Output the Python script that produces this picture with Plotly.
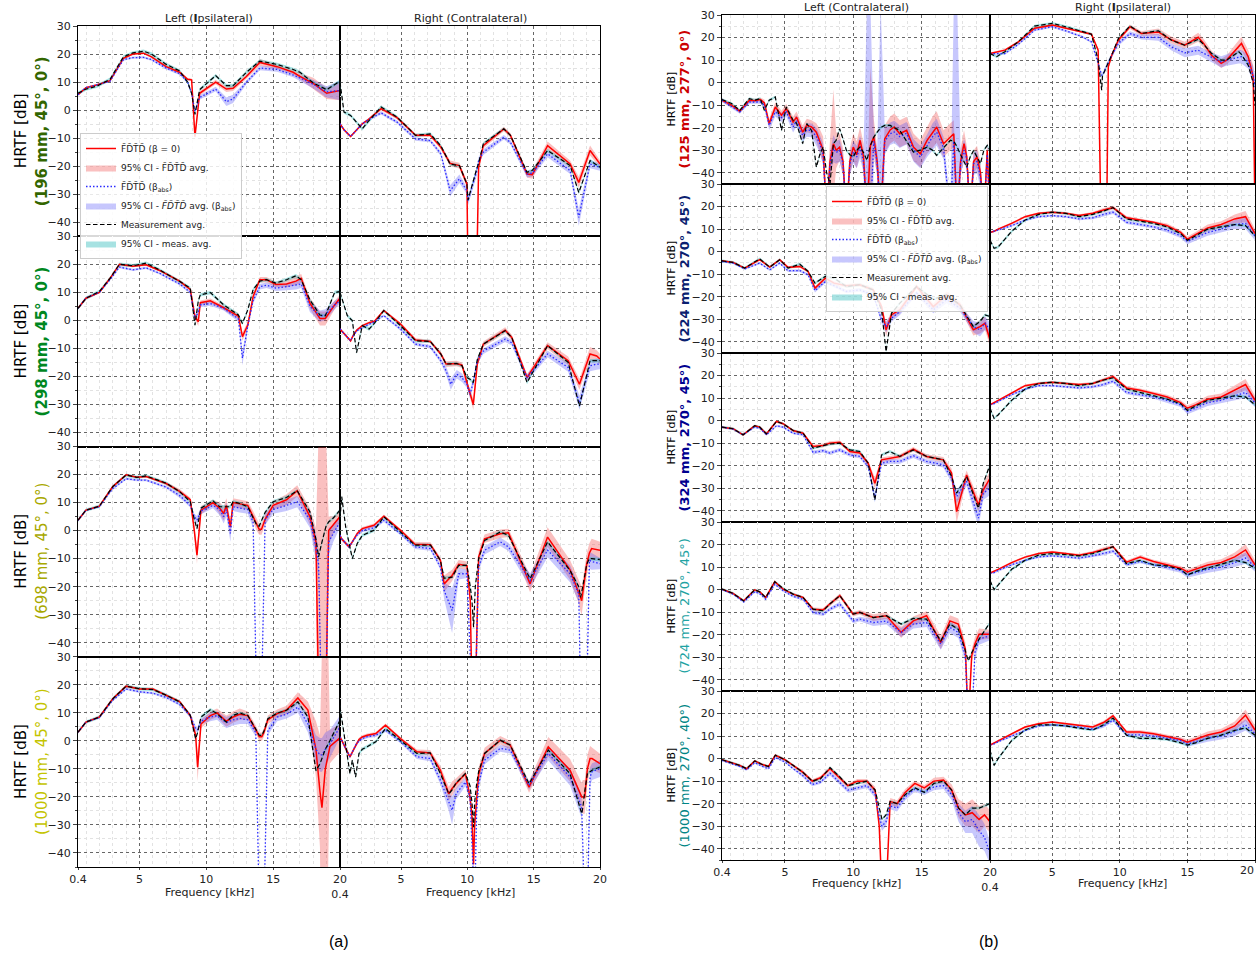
import plotly.graph_objects as go

W, H = 1257, 956

TICK_X = [0.4, 5, 10, 15, 20]
TICK_X_TEXT = ["0.4", "5", "10", "15", "20"]
TICK_Y = [-40, -30, -20, -10, 0, 10, 20, 30]
MEAS_CI = 0.6

# ===================== Panel (a) =====================
# row 1 : 196 mm - left (ipsilateral)
a1L_f    = [0.4, 1.0, 1.8, 2.8, 3.8, 4.5, 5.3, 5.9, 7.0, 8.0, 8.6, 8.9, 9.15, 9.5, 10.7, 11.5, 12.0, 13.0, 14.0, 15.3, 16.5, 17.0, 18.0, 19.0, 20.0]
a1L_meas = [6.0, 7.5, 8.5, 11.0, 19.0, 20.4, 21.0, 20.0, 16.3, 14.0, 10.0, 6.0, -1.5, 7.3, 12.3, 8.7, 8.7, 13.5, 17.5, 16.3, 14.5, 13.5, 9.7, 7.3, 10.3]
a1L_red  = [5.5, 8.0, 9.0, 10.5, 18.5, 20.0, 20.3, 19.0, 15.5, 13.5, 11.0, 10.8, -9.5, 6.0, 10.0, 7.5, 7.8, 12.0, 17.0, 15.5, 13.5, 12.0, 9.5, 6.0, 7.0]
a1L_blue = [5.5, 8.0, 9.0, 10.3, 18.0, 18.7, 18.8, 18.0, 15.0, 13.0, 10.0, 6.0, -0.5, 4.5, 7.5, 3.0, 4.0, 10.0, 15.0, 14.5, 12.5, 11.5, 9.2, 6.5, 7.0]
a1L_rci  = [0.3, 0.3, 0.3, 0.3, 0.4, 0.4, 0.4, 0.4, 0.5, 0.5, 0.5, 0.5, 1.5, 0.8, 0.8, 1.0, 1.0, 0.8, 1.2, 0.8, 0.8, 1.2, 2.0, 2.0, 3.5]
a1L_bci  = [0.3, 0.3, 0.3, 0.3, 0.4, 0.4, 0.4, 0.4, 0.5, 0.5, 0.5, 0.5, 0.8, 0.8, 0.8, 1.5, 1.5, 0.8, 0.8, 0.8, 0.8, 1.0, 1.5, 2.0, 3.5]

# row 1 : 196 mm - right (contralateral)
a1R_f    = [0.4, 0.7, 1.2, 2.08, 2.45, 3.5, 4.7, 6.1, 7.2, 8.0, 8.7, 9.4, 9.97, 10.05, 10.7, 10.85, 11.2, 12.75, 13.25, 14.5, 14.9, 16.05, 17.75, 18.4, 19.25, 20.0]
a1R_meas = [10.0, -0.7, -1.9, -6.7, -4.5, 1.1, -2.5, -9.0, -8.5, -12.7, -19.3, -19.8, -26.4, -32.1, -21.0, -19.0, -12.0, -6.7, -9.0, -22.2, -21.5, -14.4, -19.8, -29.4, -18.0, -20.4]
a1R_red  = [-4.9, -7.0, -9.4, -4.9, -3.7, 0.5, -2.7, -9.0, -9.0, -13.2, -19.0, -19.8, -26.4, -60, -60, -20.4, -12.7, -6.7, -9.0, -22.8, -23.0, -12.7, -19.2, -25.8, -14.4, -19.2]
a1R_blue = [-4.9, -7.0, -9.4, -4.9, -3.7, -1.0, -4.3, -10.3, -10.9, -15.6, -28.8, -24.5, -28.8, -32.4, -22.0, -18.0, -15.0, -9.7, -11.5, -22.8, -22.5, -15.6, -21.6, -38.3, -19.2, -20.4]
a1R_rci  = [0.4, 0.4, 0.4, 0.4, 0.4, 0.6, 0.6, 0.6, 0.6, 0.8, 1.0, 1.0, 1.2, 2.0, 2.0, 1.2, 1.0, 0.8, 0.8, 1.2, 1.5, 1.5, 1.2, 2.0, 1.8, 1.2]
a1R_bci  = [0.4, 0.4, 0.4, 0.4, 0.4, 0.6, 0.6, 0.6, 0.6, 0.8, 2.0, 1.5, 1.2, 1.5, 1.5, 1.2, 1.0, 0.8, 0.8, 1.2, 1.2, 1.2, 1.2, 3.0, 1.5, 1.2]

# row 2 : 298 mm - left (ipsilateral)
a2L_f    = [0.4, 1.0, 2.0, 2.8, 3.5, 4.5, 5.5, 6.5, 8.0, 8.8, 9.15, 9.4, 9.55, 10.3, 11.3, 12.4, 12.7, 13.1, 13.5, 14.0, 14.5, 15.2, 16.0, 16.7, 17.1, 17.75, 18.5, 18.9, 19.6, 20.0]
a2L_meas = [4.3, 7.9, 10.3, 15.0, 20.0, 19.5, 20.4, 18.0, 13.9, 11.5, -1.7, 7.0, 9.1, 9.9, 5.5, 1.9, -1.1, 3.7, 11.0, 14.0, 14.5, 13.3, 14.5, 15.9, 14.5, 7.3, 1.9, 1.6, 10.0, 10.3]
a2L_red  = [4.3, 7.9, 10.0, 15.0, 20.0, 19.3, 19.8, 17.8, 14.0, 11.0, 1.3, -0.5, 6.3, 7.0, 4.5, 1.5, -5.8, -1.7, 8.5, 14.5, 14.5, 12.8, 13.0, 14.0, 15.0, 6.1, 0.7, 0.7, 5.5, 7.9]
a2L_blue = [4.3, 8.0, 10.0, 14.5, 19.0, 18.0, 18.7, 16.8, 13.0, 10.0, 0.7, 3.0, 5.5, 6.0, 4.3, 0.5, -13.5, -2.0, 7.0, 12.0, 12.5, 11.5, 12.0, 12.5, 13.0, 5.0, 1.5, 2.0, 5.5, 7.0]
a2L_rci  = [0.3, 0.3, 0.3, 0.3, 0.4, 0.4, 0.4, 0.4, 0.5, 0.5, 1.0, 1.5, 0.8, 0.8, 0.8, 1.0, 1.5, 1.2, 1.0, 1.0, 1.0, 1.0, 1.2, 1.5, 1.5, 2.0, 2.5, 2.5, 1.5, 1.2]
a2L_bci  = [0.3, 0.3, 0.3, 0.3, 0.4, 0.4, 0.4, 0.4, 0.5, 0.5, 1.0, 1.2, 0.8, 0.8, 0.8, 1.0, 2.5, 1.2, 1.0, 1.0, 1.0, 1.0, 1.2, 1.5, 1.5, 2.0, 2.0, 2.0, 1.5, 1.2]

# row 2 : 298 mm - right (contralateral)
a2R_f    = [0.4, 0.95, 1.2, 1.33, 1.65, 2.08, 2.6, 3.0, 3.7, 4.96, 6.1, 7.2, 8.0, 8.4, 8.75, 9.2, 9.6, 9.97, 10.2, 10.45, 10.75, 11.2, 12.85, 13.35, 14.5, 16.05, 17.6, 18.45, 19.25, 19.75, 20.0]
a2R_meas = [10.0, 1.7, 0.5, -0.1, -11.5, -1.9, -3.1, -1.0, 3.5, -1.9, -7.3, -7.5, -12.0, -15.6, -15.5, -15.4, -16.2, -20.4, -21.0, -22.2, -14.0, -8.5, -3.7, -6.1, -22.2, -9.0, -15.0, -30.6, -14.4, -14.4, -14.4]
a2R_red  = [-3.1, -6.0, -7.3, -6.0, -3.5, -1.9, -0.8, -0.3, 3.5, -1.3, -7.0, -7.5, -12.0, -15.6, -15.5, -15.4, -16.0, -22.8, -26.0, -30.0, -15.6, -8.5, -3.5, -6.1, -20.4, -9.0, -14.4, -22.8, -12.0, -12.7, -13.8]
a2R_blue = [-3.1, -6.0, -7.3, -6.0, -3.8, -2.5, -1.5, -0.5, 1.7, -3.1, -8.5, -9.4, -14.4, -18.0, -22.8, -19.2, -20.5, -22.8, -26.4, -22.0, -14.4, -11.0, -6.7, -8.0, -20.4, -12.0, -16.8, -29.4, -16.2, -15.6, -15.6]
a2R_rci  = [0.4, 0.4, 0.4, 0.4, 0.4, 0.4, 0.4, 0.4, 0.4, 0.6, 0.6, 0.6, 0.8, 1.0, 1.0, 1.0, 1.0, 1.2, 1.5, 2.0, 1.2, 1.0, 1.0, 1.0, 1.2, 1.2, 1.5, 2.0, 2.5, 2.0, 1.8]
a2R_bci  = [0.4, 0.4, 0.4, 0.4, 0.4, 0.4, 0.4, 0.4, 0.4, 0.6, 0.6, 0.6, 0.8, 1.5, 2.0, 1.5, 1.5, 1.2, 1.5, 1.5, 1.2, 1.0, 1.0, 1.0, 1.2, 1.2, 1.5, 2.5, 2.0, 2.0, 1.8]

# row 3 : 698 mm - left (ipsilateral)
a3L_f    = [0.4, 1.0, 2.0, 3.0, 4.0, 4.8, 5.5, 7.0, 8.0, 8.8, 9.1, 9.3, 9.6, 10.5, 11.0, 11.3, 11.5, 11.8, 12.0, 12.5, 13.1, 13.5, 13.76, 13.95, 14.13, 14.4, 15.0, 16.0, 16.8, 17.75, 18.2, 18.4, 18.6, 18.95, 19.15, 19.5, 20.0]
a3L_meas = [3.7, 7.3, 8.7, 15.7, 19.8, 19.0, 19.5, 16.9, 13.9, 10.3, 4.0, 0.7, 8.0, 10.6, 8.5, 8.5, 8.5, 8.5, 10.3, 9.7, 8.5, 4.5, 2.0, 1.6, 3.5, 6.5, 10.3, 11.8, 14.2, 6.7, -3.0, -9.4, -5.0, 1.5, 3.1, 4.5, 7.3]
a3L_red  = [3.7, 7.3, 8.7, 15.7, 19.9, 19.0, 19.3, 16.8, 14.0, 11.0, 0.0, -8.8, 7.3, 10.0, 8.0, 6.1, 9.0, 1.3, 10.0, 9.5, 9.0, 5.0, 2.0, 0.5, 0.5, 4.0, 9.0, 11.0, 14.2, 5.0, -4.0, -60, -60, -60, 0.0, 2.0, 5.0]
a3L_blue = [3.7, 7.3, 8.5, 15.0, 18.5, 18.0, 18.0, 15.5, 12.5, 9.0, 5.0, 3.7, 7.0, 9.0, 7.5, 5.0, 7.5, -1.0, 8.5, 8.0, 7.5, 3.0, -60, -60, -60, 4.0, 7.5, 9.0, 10.3, 4.0, -6.0, -12.0, -60, -60, -4.0, -1.0, 3.0]
a3L_rci  = [0.3, 0.3, 0.3, 0.4, 0.4, 0.4, 0.4, 0.5, 0.8, 0.8, 1.5, 3.0, 1.5, 1.0, 2.0, 2.5, 2.5, 2.5, 1.5, 1.5, 1.5, 2.0, 2.0, 2.0, 2.0, 2.0, 1.5, 2.0, 2.0, 3.0, 5.0, 95, 95, 95, 5.0, 3.0, 2.0]
a3L_bci  = [0.3, 0.3, 0.3, 0.4, 0.4, 0.4, 0.4, 0.5, 0.8, 0.8, 1.0, 1.5, 1.2, 1.0, 2.0, 2.5, 2.5, 3.0, 1.5, 1.5, 1.5, 2.0, 3.0, 3.0, 3.0, 2.0, 1.5, 2.0, 2.0, 3.0, 5.0, 5.0, 5.0, 5.0, 5.0, 3.0, 2.0]

# row 3 : 698 mm - right (contralateral)
a3R_f    = [0.4, 0.53, 0.83, 1.08, 1.33, 1.7, 2.08, 2.96, 3.71, 4.96, 6.05, 7.22, 7.97, 8.25, 8.85, 9.35, 9.97, 10.22, 10.35, 10.47, 10.6, 10.85, 11.3, 12.48, 13.1, 14.73, 16.05, 17.74, 18.4, 18.54, 18.62, 19.0, 19.2, 19.37, 20.0]
a3R_meas = [4.3, 12.1, 1.3, -5.0, -10.0, -4.6, -1.7, 0.1, 4.9, -0.5, -5.2, -5.2, -10.6, -17.0, -16.6, -12.4, -12.4, -20.0, -25.0, -34.5, -20.0, -10.0, -3.5, -0.5, -1.7, -17.2, -4.0, -14.2, -20.0, -23.8, -22.0, -12.0, -10.0, -10.0, -10.4]
a3R_red  = [-1.7, -3.0, -4.5, -5.8, -4.0, -1.0, 0.7, 1.9, 5.1, 0.1, -4.9, -5.0, -10.6, -19.0, -16.0, -12.0, -12.5, -25.0, -60, -60, -60, -9.4, -2.9, -1.1, -0.8, -19.0, -2.3, -14.0, -22.0, -24.0, -25.0, -12.0, -8.0, -6.4, -7.0]
a3R_blue = [-1.7, -3.0, -4.5, -5.8, -4.0, -1.5, 0.0, 1.0, 3.7, -1.1, -5.8, -6.4, -13.0, -21.4, -28.5, -15.4, -15.4, -60, -60, -60, -60, -13.0, -7.0, -4.0, -5.8, -17.8, -7.0, -15.4, -22.6, -60, -60, -60, -10.6, -11.0, -11.8]
a3R_rci  = [0.5, 0.5, 0.6, 0.6, 0.6, 0.6, 0.6, 0.6, 0.6, 0.6, 0.8, 0.8, 1.0, 3.0, 2.0, 1.5, 1.5, 2.0, 3.0, 3.0, 3.0, 2.0, 1.5, 1.5, 1.5, 3.0, 3.5, 3.5, 4.0, 5.0, 5.0, 4.0, 3.5, 3.5, 3.0]
a3R_bci  = [0.5, 0.5, 0.6, 0.6, 0.6, 0.6, 0.6, 0.6, 0.6, 0.6, 0.8, 0.8, 1.0, 3.0, 8.0, 2.0, 1.5, 2.0, 2.0, 2.0, 2.0, 1.5, 1.5, 1.5, 1.5, 2.5, 2.5, 3.0, 3.0, 3.0, 3.0, 3.0, 3.0, 3.0, 2.0]

# row 4 : 1000 mm - left (ipsilateral)
a4L_f    = [0.4, 1.0, 2.0, 3.0, 4.0, 5.0, 6.0, 7.0, 8.0, 8.8, 9.2, 9.35, 9.6, 10.3, 10.8, 11.5, 12.0, 12.5, 13.1, 13.7, 13.96, 14.15, 14.31, 14.6, 15.3, 16.0, 16.85, 17.6, 18.2, 18.5, 18.65, 18.9, 19.25, 20.0]
a4L_meas = [3.1, 6.7, 8.5, 15.0, 19.5, 18.6, 18.3, 16.3, 13.9, 9.1, 0.7, 3.0, 8.5, 11.1, 9.7, 6.7, 9.1, 9.9, 9.1, 4.0, 2.0, 1.9, 3.5, 7.9, 9.9, 10.9, 13.9, 8.5, -10.6, -8.2, -6.0, -3.0, 0.1, 7.3]
a4L_red  = [3.1, 6.7, 8.5, 15.0, 19.5, 18.5, 18.5, 16.3, 14.0, 9.0, 2.0, -9.4, 6.0, 9.0, 10.0, 7.0, 8.5, 9.5, 9.0, 4.0, 1.5, 1.5, 3.0, 7.5, 9.7, 11.0, 15.3, 11.0, -3.0, -18.0, -23.8, -10.0, -2.0, 1.1]
a4L_blue = [3.1, 6.7, 8.3, 14.5, 18.5, 17.5, 17.0, 15.5, 13.0, 9.0, 4.3, 4.0, 7.0, 8.5, 9.0, 6.5, 7.5, 8.0, 7.5, 3.0, -60, -60, -60, 3.5, 8.5, 9.5, 12.0, 6.0, -3.0, -5.0, -5.0, -3.0, -1.0, 5.0]
a4L_rci  = [0.3, 0.3, 0.3, 0.4, 0.4, 0.4, 0.4, 0.5, 0.5, 0.8, 1.5, 5.0, 1.5, 1.5, 1.5, 2.0, 2.0, 2.0, 1.5, 1.5, 1.5, 1.5, 1.5, 1.5, 1.5, 1.5, 2.0, 3.0, 10.0, 20.0, 95, 95, 6.0, 5.0]
a4L_bci  = [0.3, 0.3, 0.3, 0.4, 0.4, 0.4, 0.4, 0.5, 0.5, 0.8, 1.0, 1.0, 1.0, 1.5, 1.5, 2.0, 2.0, 2.0, 1.5, 1.5, 2.0, 2.0, 2.0, 1.5, 1.5, 1.5, 2.0, 3.0, 5.0, 6.0, 6.0, 6.0, 5.0, 4.0]

# row 4 : 1000 mm - right (contralateral)
a4R_f    = [0.4, 0.83, 1.15, 1.33, 1.58, 1.83, 2.08, 2.45, 3.1, 3.83, 4.96, 6.2, 7.2, 7.97, 8.6, 8.85, 9.15, 9.85, 10.2, 10.35, 10.47, 10.55, 10.7, 10.85, 11.3, 12.48, 13.23, 14.65, 16.1, 17.74, 18.62, 18.7, 18.85, 19.05, 19.25, 19.4, 20.0]
a4R_meas = [12.2, -2.1, -11.7, -6.9, -12.9, -4.5, -3.0, -2.1, -0.3, 4.4, 0.2, -4.5, -4.3, -11.7, -18.9, -17.5, -15.0, -11.7, -16.0, -22.0, -30.8, -22.0, -15.3, -11.0, -4.5, 0.2, -1.5, -15.3, -3.3, -11.7, -26.0, -24.0, -18.0, -11.7, -11.0, -10.5, -9.3]
a4R_red  = [1.4, -3.0, -5.7, -4.0, -1.5, 0.5, 1.4, 2.0, 2.6, 5.6, 0.8, -3.9, -4.3, -10.5, -18.9, -17.0, -15.3, -11.7, -20.0, -27.2, -44.0, -30.0, -21.0, -12.0, -4.5, 0.2, -1.5, -16.5, -2.1, -10.5, -20.0, -20.0, -20.0, -10.0, -6.3, -6.3, -8.1]
a4R_blue = [1.4, -3.0, -5.7, -4.0, -1.5, 0.0, 0.8, 1.5, 2.0, 3.8, -0.3, -5.7, -6.3, -14.1, -22.0, -24.8, -18.9, -14.7, -20.0, -34.4, -60, -60, -25.0, -15.3, -6.9, -2.7, -3.3, -15.9, -4.5, -12.9, -23.6, -60, -60, -60, -12.9, -11.0, -9.9]
a4R_rci  = [0.5, 0.6, 0.6, 0.6, 0.6, 0.6, 0.6, 0.6, 0.6, 0.6, 0.6, 0.8, 1.0, 1.5, 2.5, 2.5, 2.0, 1.5, 2.0, 3.0, 4.0, 4.0, 3.0, 2.5, 2.0, 1.5, 1.5, 2.0, 3.5, 4.0, 5.0, 6.0, 6.0, 5.0, 4.5, 4.0, 3.5]
a4R_bci  = [0.5, 0.6, 0.6, 0.6, 0.6, 0.6, 0.6, 0.6, 0.6, 0.6, 0.6, 0.8, 1.0, 1.5, 3.0, 5.0, 2.0, 1.5, 2.0, 3.0, 4.0, 4.0, 3.0, 2.0, 1.5, 1.2, 1.2, 1.5, 2.5, 3.0, 4.0, 4.0, 4.0, 4.0, 3.5, 3.0, 3.0]

# ===================== Panel (b) =====================
# row 1 : 125 mm - left (contralateral)
b1L_f    = [0.4, 1.1, 1.7, 2.4, 2.8, 3.2, 3.5, 3.85, 4.3, 4.75, 5.1, 5.6, 5.85, 6.3, 6.6, 6.95, 7.3, 7.55, 7.8, 8.05, 8.3, 8.55, 8.75, 9.0, 9.25, 9.5, 9.75, 10.0, 10.25, 10.5, 10.75, 11.0, 11.25, 11.5, 11.75, 12.0, 12.3, 12.7, 13.0, 13.4, 13.9, 14.4, 14.9, 15.4, 15.8, 16.1, 16.6, 17.1, 17.35, 17.6, 17.85, 18.1, 18.3, 18.55, 18.8, 19.05, 19.3, 19.55, 19.8, 20.0]
b1L_meas = [-7.5, -9.3, -12.3, -7.1, -7.8, -7.1, -12.3, -7.8, -6.4, -21.2, -10.8, -16.7, -18.0, -27.1, -18.2, -21.2, -37.5, -32.0, -28.6, -40.0, -45.0, -27.0, -25.6, -20.4, -25.0, -30.1, -32.0, -33.0, -30.0, -28.6, -31.0, -34.5, -28.0, -24.2, -22.0, -20.0, -19.0, -19.0, -20.0, -21.2, -26.0, -30.8, -30.0, -28.6, -30.0, -32.3, -29.0, -25.6, -26.0, -28.6, -32.0, -35.0, -37.5, -33.0, -30.1, -33.0, -36.0, -30.0, -27.9, -30.1]
b1L_red  = [-7.8, -10.0, -12.7, -7.8, -8.0, -7.5, -9.0, -18.2, -10.8, -14.5, -11.5, -17.5, -15.3, -22.0, -19.0, -19.7, -22.0, -25.6, -30.0, -60, -35.0, -27.1, -30.0, -28.6, -35.0, -60, -35.0, -28.6, -32.0, -25.6, -33.0, -60, -28.0, -24.2, -35.0, -60, -25.0, -21.0, -19.7, -22.7, -21.2, -28.6, -31.6, -25.6, -22.0, -19.7, -27.1, -24.0, -22.7, -60, -35.0, -27.1, -33.0, -60, -35.0, -33.0, -40.0, -60, -30.1, -60]
b1L_blue = [-7.8, -10.5, -13.0, -8.6, -8.6, -8.6, -10.0, -19.0, -13.0, -15.5, -13.0, -19.7, -17.0, -23.4, -21.0, -21.2, -24.0, -27.1, -32.0, -60, -36.0, -29.3, -31.0, -30.1, -36.0, -60, -36.0, -30.8, -33.0, -28.6, -35.0, -60, -60, -26.0, -36.0, -60, -26.0, -22.7, -21.9, -24.0, -22.5, -30.0, -33.0, -28.0, -24.0, -22.0, -29.0, -60, -26.0, -60, -36.0, -30.0, -34.0, -60, -36.0, -35.0, -42.0, -60, -32.0, -60]
b1L_rci  = [0.8, 0.8, 0.8, 0.8, 0.8, 0.8, 1.5, 2.0, 2.0, 2.0, 2.0, 2.5, 2.5, 3.0, 3.0, 3.0, 4.0, 5.0, 6.0, 6.0, 10.0, 24.0, 8.0, 6.0, 6.0, 6.0, 6.0, 6.0, 6.0, 6.0, 6.0, 10.0, 35.0, 8.0, 6.0, 6.0, 6.0, 6.0, 6.0, 6.0, 6.0, 6.0, 6.0, 6.0, 7.0, 7.0, 6.0, 6.0, 6.0, 6.0, 6.0, 6.0, 5.0, 5.0, 5.0, 5.0, 5.0, 5.0, 5.0, 5.0]
b1L_bci  = [0.8, 0.8, 0.8, 0.8, 0.8, 0.8, 1.5, 2.0, 2.0, 2.0, 2.0, 2.5, 2.5, 3.0, 3.0, 3.0, 4.0, 4.0, 5.0, 5.0, 5.0, 6.0, 5.0, 5.0, 5.0, 5.0, 5.0, 5.0, 5.0, 5.0, 5.0, 95, 95, 5.0, 6.0, 95, 6.0, 5.0, 5.0, 5.0, 5.0, 5.0, 5.0, 5.0, 6.0, 6.0, 5.0, 5.0, 60, 95, 5.0, 5.0, 5.0, 5.0, 5.0, 5.0, 5.0, 5.0, 5.0, 5.0]

# row 1 : 125 mm - right (ipsilateral)
b1R_f    = [0.4, 0.9, 1.5, 2.5, 3.7, 5.0, 6.0, 7.2, 7.9, 8.4, 8.6, 8.66, 8.72, 9.03, 9.15, 9.4, 9.9, 10.75, 11.6, 12.85, 13.8, 14.8, 15.8, 16.2, 16.8, 17.5, 17.9, 18.8, 19.0, 19.5, 19.87, 20.0]
b1R_meas = [12.9, 11.5, 13.7, 18.1, 25.1, 26.3, 24.8, 22.6, 21.5, 10.0, 0.0, -3.4, 3.0, 7.0, 9.0, 12.2, 19.6, 25.1, 21.8, 23.0, 18.9, 16.6, 19.2, 17.0, 12.9, 10.0, 10.0, 13.7, 12.5, 7.7, 0.0, -10.0]
b1R_red  = [12.9, 13.5, 14.4, 18.1, 24.1, 25.5, 24.1, 22.6, 21.5, 14.4, -60, -60, -60, -60, 7.0, 12.0, 18.9, 24.8, 21.8, 22.5, 19.0, 16.6, 20.1, 17.4, 12.0, 8.5, 10.0, 16.0, 17.4, 11.5, 2.6, -60]
b1R_blue = [12.9, 12.9, 12.9, 17.0, 23.3, 24.8, 23.0, 20.4, 18.1, 8.5, 4.0, 3.3, 3.3, 7.7, 9.0, 12.0, 17.4, 21.8, 20.1, 20.1, 15.9, 13.2, 14.4, 13.0, 11.2, 9.2, 10.0, 11.5, 11.5, 9.2, 3.0, -1.9]
b1R_rci  = [0.5, 0.5, 0.5, 0.5, 0.5, 0.5, 0.5, 0.5, 0.5, 0.8, 1.0, 1.0, 1.0, 1.0, 1.0, 1.0, 1.0, 1.0, 1.0, 1.5, 1.5, 1.5, 2.0, 2.0, 2.0, 2.0, 2.0, 2.5, 3.0, 3.0, 5.0, 15.0]
b1R_bci  = [0.5, 0.5, 0.5, 0.5, 0.5, 0.5, 0.5, 0.5, 0.5, 0.8, 1.0, 1.0, 1.0, 1.0, 1.0, 1.0, 1.0, 1.0, 1.0, 1.5, 1.5, 2.0, 2.0, 2.0, 2.0, 2.5, 2.5, 3.0, 3.0, 3.0, 4.0, 5.0]

# row 2 : 224 mm - left (contralateral)
b2L_f    = [0.4, 1.21, 2.06, 3.16, 3.89, 4.62, 5.23, 6.09, 6.7, 7.2, 7.95, 8.6, 9.5, 10.48, 11.46, 12.07, 12.4, 12.8, 13.41, 14.63, 15.85, 16.83, 17.8, 18.78, 19.27, 19.64, 20.0]
b2L_meas = [-4.1, -4.8, -7.3, -3.2, -6.9, -3.6, -7.3, -5.6, -8.8, -14.0, -11.0, -11.8, -15.5, -14.7, -17.0, -25.9, -44.4, -27.3, -22.9, -15.5, -21.1, -19.2, -23.6, -33.3, -31.0, -28.1, -28.8]
b2L_red  = [-4.1, -4.8, -7.3, -3.6, -6.9, -3.6, -7.0, -6.6, -8.8, -16.2, -11.8, -14.0, -15.2, -14.7, -17.0, -24.4, -34.7, -28.0, -25.9, -15.5, -24.4, -19.2, -23.6, -34.7, -33.3, -31.8, -39.2]
b2L_blue = [-4.4, -5.1, -7.7, -5.1, -8.1, -5.1, -8.5, -8.4, -10.3, -17.3, -13.3, -15.2, -17.7, -17.0, -19.2, -30.3, -33.3, -29.6, -26.6, -18.4, -25.9, -21.4, -25.1, -33.3, -34.7, -31.8, -34.7]
b2L_rci  = [0.4, 0.4, 0.4, 0.5, 0.5, 0.5, 0.5, 0.6, 0.6, 0.8, 0.8, 0.8, 0.8, 0.8, 1.0, 1.5, 3.0, 1.5, 1.5, 1.0, 1.5, 1.5, 1.5, 2.5, 3.0, 3.0, 3.0]
b2L_bci  = [0.4, 0.4, 0.4, 0.5, 0.5, 0.5, 0.5, 0.6, 0.6, 0.8, 0.8, 0.8, 0.8, 0.8, 1.0, 1.5, 2.5, 1.5, 1.5, 1.0, 1.5, 1.5, 1.5, 2.5, 3.0, 3.0, 3.0]

# rows 2-5 : right (ipsilateral), common frequency grid
bR_f     = [0.4, 0.7, 1.0, 2.0, 3.0, 4.0, 5.0, 6.0, 7.0, 8.0, 8.8, 9.5, 10.5, 11.5, 12.5, 13.5, 14.5, 15.0, 15.6, 16.5, 17.5, 18.5, 19.3, 20.0]
bR_ci    = [0.4, 0.4, 0.4, 0.5, 0.5, 0.5, 0.5, 0.5, 0.6, 0.6, 0.8, 0.8, 0.8, 0.8, 0.8, 1.0, 1.0, 1.2, 1.2, 1.5, 1.5, 2.0, 2.5, 2.0]
b2R_meas = [5.0, 1.5, 2.0, 9.0, 14.0, 16.5, 17.5, 17.0, 15.5, 16.5, 18.0, 19.5, 14.5, 13.5, 12.5, 11.0, 8.0, 5.0, 7.0, 10.0, 11.0, 12.0, 11.5, 7.0]
b2R_red  = [8.5, 9.0, 10.0, 12.5, 15.5, 17.0, 17.5, 17.0, 16.0, 17.0, 18.5, 19.5, 15.0, 14.0, 13.0, 11.5, 8.5, 5.5, 7.5, 10.5, 12.0, 14.5, 15.5, 8.0]
b2R_blue = [8.5, 9.0, 9.5, 11.5, 14.0, 15.5, 16.0, 15.5, 14.5, 15.0, 16.5, 17.5, 13.0, 12.0, 11.0, 9.5, 7.0, 4.5, 6.0, 8.5, 10.0, 12.0, 12.5, 7.0]
b3R_meas = [5.5, 1.0, 2.5, 9.0, 14.0, 16.5, 17.0, 16.5, 15.5, 16.5, 18.0, 19.0, 14.0, 12.5, 11.0, 9.5, 7.5, 4.5, 6.5, 9.0, 10.0, 11.0, 10.5, 7.0]
b3R_red  = [7.0, 8.0, 9.0, 12.5, 15.5, 16.5, 17.0, 16.5, 16.0, 16.5, 18.0, 19.5, 14.5, 13.5, 12.0, 10.5, 8.0, 5.5, 7.0, 9.5, 10.5, 13.5, 16.0, 9.0]
b3R_blue = [7.0, 7.5, 8.5, 11.5, 14.0, 15.5, 15.5, 15.0, 14.5, 15.0, 16.0, 17.5, 12.5, 11.5, 10.5, 9.0, 7.0, 4.0, 5.5, 8.0, 9.0, 11.0, 12.5, 8.0]
b4R_meas = [4.0, 0.0, 2.0, 9.0, 13.0, 15.3, 16.0, 15.5, 15.0, 16.0, 17.5, 19.0, 11.5, 13.0, 11.0, 10.5, 9.0, 6.5, 8.0, 9.5, 11.0, 13.0, 12.0, 9.5]
b4R_red  = [7.3, 8.0, 9.0, 12.0, 14.4, 16.0, 16.7, 16.0, 15.3, 16.5, 18.0, 19.0, 12.2, 14.4, 12.5, 11.0, 9.5, 7.8, 9.0, 10.9, 12.0, 14.5, 17.6, 11.0]
b4R_blue = [7.3, 7.5, 8.5, 11.0, 13.0, 14.5, 15.0, 14.5, 14.0, 15.0, 16.0, 17.0, 11.0, 12.5, 11.0, 10.0, 8.5, 6.5, 7.5, 9.0, 10.0, 12.0, 14.0, 10.0]
b5R_meas = [3.8, -3.0, 0.0, 8.0, 12.7, 15.0, 15.0, 14.5, 13.5, 12.7, 15.0, 18.0, 10.4, 9.0, 9.0, 8.5, 7.0, 6.0, 7.0, 9.0, 10.4, 12.5, 13.6, 10.4]
b5R_red  = [6.0, 7.0, 8.0, 11.0, 14.0, 15.5, 16.2, 15.5, 15.0, 14.0, 16.0, 19.0, 11.8, 11.8, 11.0, 9.6, 8.5, 7.3, 8.5, 10.5, 11.8, 14.5, 19.3, 12.7]
b5R_blue = [6.0, 6.5, 7.5, 10.0, 12.5, 14.5, 15.0, 14.5, 14.0, 13.0, 14.5, 17.0, 10.5, 10.5, 10.0, 9.0, 8.0, 6.5, 7.5, 9.0, 10.0, 12.0, 15.0, 11.0]

# row 3 : 324 mm - left (contralateral)
b3L_f    = [0.4, 1.21, 1.94, 2.79, 3.16, 3.65, 4.38, 4.87, 5.6, 6.33, 7.06, 7.8, 8.28, 9.02, 9.75, 10.48, 11.09, 11.58, 12.07, 12.68, 13.41, 14.39, 15.36, 16.58, 17.19, 17.56, 18.29, 19.15, 19.51, 20.0]
b3L_meas = [-2.9, -3.6, -6.3, -2.3, -2.9, -5.9, -0.4, -1.4, -4.4, -5.6, -12.2, -11.2, -10.4, -10.0, -13.0, -13.7, -18.9, -35.2, -15.2, -13.7, -15.9, -13.0, -15.9, -17.4, -24.8, -32.2, -24.8, -38.9, -27.8, -19.6]
b3L_red  = [-2.9, -3.6, -6.3, -2.3, -2.9, -5.9, -0.4, -1.4, -4.4, -5.6, -11.5, -11.0, -10.0, -9.6, -13.7, -14.4, -18.9, -27.8, -17.4, -16.7, -15.9, -12.7, -15.9, -17.4, -23.3, -40.4, -24.1, -37.4, -30.7, -25.6]
b3L_blue = [-2.9, -3.8, -6.3, -2.9, -3.4, -6.3, -2.3, -2.9, -5.6, -6.3, -14.1, -13.4, -14.4, -13.0, -15.2, -15.9, -20.4, -34.4, -18.9, -18.1, -18.1, -15.6, -18.1, -19.6, -25.6, -33.7, -27.0, -43.3, -32.2, -30.0]
b3L_rci  = [0.4, 0.4, 0.4, 0.4, 0.4, 0.4, 0.5, 0.5, 0.5, 0.5, 0.8, 0.8, 0.8, 0.8, 0.8, 0.8, 1.0, 2.5, 1.0, 1.0, 1.0, 1.0, 1.0, 1.2, 2.0, 5.0, 2.0, 3.0, 3.0, 3.0]
b3L_bci  = [0.4, 0.4, 0.4, 0.4, 0.4, 0.4, 0.5, 0.5, 0.5, 0.5, 0.8, 0.8, 0.8, 0.8, 0.8, 0.8, 1.0, 2.0, 1.0, 1.0, 1.0, 1.0, 1.0, 1.2, 2.0, 3.0, 2.0, 4.0, 3.0, 3.0]

# row 4 : 724 mm - left (contralateral)
b4L_f    = [0.4, 1.21, 1.99, 2.79, 3.16, 3.6, 4.26, 4.87, 5.6, 6.33, 7.06, 7.8, 8.28, 9.02, 9.99, 10.48, 11.46, 12.43, 13.5, 14.39, 15.36, 16.4, 17.07, 17.68, 18.2, 18.41, 18.66, 18.9, 19.2, 20.0]
b4L_meas = [0.2, -1.7, -5.0, -0.1, -1.0, -3.5, 3.5, 0.5, -2.0, -3.5, -8.7, -9.4, -6.4, -2.7, -10.9, -10.1, -12.4, -11.6, -15.3, -12.8, -13.1, -22.7, -15.3, -17.6, -27.2, -31.6, -28.0, -25.0, -22.0, -14.6]
b4L_red  = [0.2, -1.7, -5.0, -0.1, -1.0, -3.5, 3.5, 0.2, -2.0, -3.5, -8.7, -9.0, -6.4, -2.7, -10.9, -10.1, -12.4, -11.6, -19.0, -13.9, -11.6, -23.5, -13.9, -15.3, -26.4, -60, -29.4, -24.0, -19.8, -19.8]
b4L_blue = [0.0, -2.0, -5.5, -1.0, -1.8, -4.3, 2.4, -0.5, -3.0, -4.3, -10.1, -10.9, -8.7, -6.4, -13.9, -13.1, -14.6, -14.0, -19.0, -15.3, -14.6, -24.2, -16.8, -19.0, -29.4, -60, -60, -27.9, -22.0, -20.5]
b4L_rci  = [0.4, 0.4, 0.4, 0.4, 0.4, 0.4, 0.5, 0.5, 0.5, 0.5, 0.8, 0.8, 0.8, 1.0, 1.0, 1.0, 1.5, 1.5, 2.5, 2.0, 2.0, 3.0, 2.5, 2.5, 3.0, 3.0, 3.0, 3.0, 2.5, 2.0]
b4L_bci  = [0.4, 0.4, 0.4, 0.4, 0.4, 0.4, 0.5, 0.5, 0.5, 0.5, 0.8, 0.8, 0.8, 1.0, 1.0, 1.0, 1.5, 1.5, 2.0, 2.0, 2.0, 2.5, 2.5, 2.5, 3.0, 3.0, 3.0, 3.0, 2.5, 2.0]

# row 5 : 1000 mm - left (contralateral)
b5L_f    = [0.4, 1.0, 1.7, 2.2, 2.8, 3.3, 3.8, 4.3, 5.0, 5.6, 6.3, 7.0, 7.6, 8.3, 9.0, 9.6, 10.3, 11.0, 11.6, 11.9, 12.1, 12.4, 12.7, 13.2, 13.8, 14.5, 15.2, 15.9, 16.6, 17.2, 17.7, 18.2, 18.7, 19.2, 19.6, 20.0]
b5L_meas = [-0.5, -1.5, -3.0, -4.5, -1.0, -2.5, -3.5, 1.5, -0.5, -3.0, -6.0, -10.0, -9.0, -4.0, -8.0, -12.0, -11.0, -10.0, -14.0, -22.0, -27.0, -25.0, -19.0, -20.0, -16.0, -13.0, -15.0, -11.0, -10.0, -14.0, -22.0, -25.0, -22.0, -22.0, -21.0, -20.0]
b5L_red  = [-0.5, -1.5, -3.0, -4.5, -1.0, -2.5, -3.5, 1.5, -0.5, -3.0, -6.0, -10.0, -8.5, -4.5, -8.5, -12.0, -10.0, -10.0, -14.0, -30.0, -60, -60, -19.0, -20.0, -15.0, -11.0, -13.0, -10.0, -9.5, -14.0, -22.0, -25.0, -24.0, -27.0, -25.0, -28.0]
b5L_blue = [-0.8, -2.0, -3.5, -5.0, -1.8, -3.3, -4.5, 0.5, -1.5, -4.5, -7.5, -11.5, -10.5, -6.5, -10.5, -14.0, -13.0, -12.0, -16.0, -26.0, -30.0, -28.0, -21.0, -22.0, -17.0, -13.5, -15.0, -12.5, -12.0, -16.0, -24.0, -28.0, -27.0, -32.0, -35.0, -42.0]
b5L_rci  = [0.4, 0.4, 0.4, 0.4, 0.4, 0.4, 0.5, 0.5, 0.5, 0.5, 0.8, 0.8, 0.8, 1.0, 1.0, 1.0, 1.0, 1.0, 1.5, 2.0, 2.0, 2.0, 1.5, 1.5, 1.5, 1.2, 1.2, 1.5, 1.5, 2.5, 4.0, 5.0, 6.0, 6.0, 5.0, 5.0]
b5L_bci  = [0.4, 0.4, 0.4, 0.4, 0.4, 0.4, 0.5, 0.5, 0.5, 0.5, 0.8, 0.8, 0.8, 1.0, 1.0, 1.0, 1.0, 1.0, 1.5, 2.0, 2.0, 2.0, 1.5, 1.5, 1.5, 1.2, 1.2, 1.5, 1.5, 2.5, 4.0, 5.0, 6.0, 7.0, 6.0, 5.0]

# ---------------- labels ----------------
A_ROW_LABELS = ["(196 mm, 45°, 0°)", "(298 mm, 45°, 0°)", "(698 mm, 45°, 0°)", "(1000 mm, 45°, 0°)"]
B_ROW_LABELS = ["(125 mm, 277°, 0°)", "(224 mm, 270°, 45°)", "(324 mm, 270°, 45°)", "(724 mm, 270°, 45°)", "(1000 mm, 270°, 40°)"]
A_COL_TITLES = ["Left (<b>I</b>psilateral)", "Right (Contralateral)"]
B_COL_TITLES = ["Left (Contralateral)", "Right (<b>I</b>psilateral)"]

# ---------------- styling ----------------
A_ROW_COLORS = ["#336600", "#00871f", "#a8a800", "#c4c400"]
A_ROW_BOLD = [True, True, False, False]
B_ROW_COLORS = ["#cc0000", "#0b1f70", "#00008f", "#1fa3a3", "#008585"]
B_ROW_BOLD = [True, True, True, False, False]

RED = "#ff0000"
BLUE = "#2a2aff"
BLACK = "#000000"
RED_BAND = "rgba(238,60,60,0.32)"
BLUE_BAND = "rgba(70,70,250,0.30)"
CYAN_BAND = "rgba(60,190,190,0.45)"

TILDE = "F\u0303D\u0303T\u0303D\u0303"
NAMES = {
    "red": TILDE + " (β = 0)",
    "redband": "95% CI - " + TILDE + " avg.",
    "blue": TILDE + " (β<sub>abs</sub>)",
    "blueband": "95% CI - <i>" + TILDE + "</i> avg. (β<sub>abs</sub>)",
    "meas": "Measurement avg.",
    "measband": "95% CI - meas. avg.",
}

CELLS = [
    ("a", 0, 0, a1L_f, a1L_red, a1L_blue, a1L_meas, a1L_rci, a1L_bci),
    ("a", 0, 1, a1R_f, a1R_red, a1R_blue, a1R_meas, a1R_rci, a1R_bci),
    ("a", 1, 0, a2L_f, a2L_red, a2L_blue, a2L_meas, a2L_rci, a2L_bci),
    ("a", 1, 1, a2R_f, a2R_red, a2R_blue, a2R_meas, a2R_rci, a2R_bci),
    ("a", 2, 0, a3L_f, a3L_red, a3L_blue, a3L_meas, a3L_rci, a3L_bci),
    ("a", 2, 1, a3R_f, a3R_red, a3R_blue, a3R_meas, a3R_rci, a3R_bci),
    ("a", 3, 0, a4L_f, a4L_red, a4L_blue, a4L_meas, a4L_rci, a4L_bci),
    ("a", 3, 1, a4R_f, a4R_red, a4R_blue, a4R_meas, a4R_rci, a4R_bci),
    ("b", 0, 0, b1L_f, b1L_red, b1L_blue, b1L_meas, b1L_rci, b1L_bci),
    ("b", 0, 1, b1R_f, b1R_red, b1R_blue, b1R_meas, b1R_rci, b1R_bci),
    ("b", 1, 0, b2L_f, b2L_red, b2L_blue, b2L_meas, b2L_rci, b2L_bci),
    ("b", 1, 1, bR_f, b2R_red, b2R_blue, b2R_meas, bR_ci, bR_ci),
    ("b", 2, 0, b3L_f, b3L_red, b3L_blue, b3L_meas, b3L_rci, b3L_bci),
    ("b", 2, 1, bR_f, b3R_red, b3R_blue, b3R_meas, bR_ci, bR_ci),
    ("b", 3, 0, b4L_f, b4L_red, b4L_blue, b4L_meas, b4L_rci, b4L_bci),
    ("b", 3, 1, bR_f, b4R_red, b4R_blue, b4R_meas, bR_ci, bR_ci),
    ("b", 4, 0, b5L_f, b5L_red, b5L_blue, b5L_meas, b5L_rci, b5L_bci),
    ("b", 4, 1, bR_f, b5R_red, b5R_blue, b5R_meas, bR_ci, bR_ci),
]

PANEL = {
    "a": dict(cols=[(78, 340), (340, 600)], top=26, rowh=210.25, nrows=4),
    "b": dict(cols=[(722, 990), (990, 1255)], top=15, rowh=169.0, nrows=5),
}
LEGEND_CELL = {("a", 0, 0): "legend", ("b", 1, 0): "legend2"}


def ax_name(prefix, i):
    return prefix if i == 1 else f"{prefix}{i}"


def px_x(px):
    return px / W


def px_y(py):
    return 1 - py / H


def band_xy(f, v, ci):
    n = min(len(f), len(v), len(ci))
    f, v, ci = f[:n], v[:n], ci[:n]
    up = [a + c for a, c in zip(v, ci)]
    lo = [a - c for a, c in zip(v, ci)]
    return list(f) + list(f[::-1]), up + lo[::-1]


fig = go.Figure()
layout_axes = {}
annotations = []

for i, (panel, r, c, f, red, blue, meas, rci, bci) in enumerate(CELLS, start=1):
    P = PANEL[panel]
    x0, x1 = P["cols"][c]
    y0 = P["top"] + r * P["rowh"]
    y1 = y0 + P["rowh"]
    xa, ya = ax_name("x", i), ax_name("y", i)
    leg = LEGEND_CELL.get((panel, r, c))
    show = leg is not None
    common = dict(xaxis=xa, yaxis=ya, hoverinfo="skip", showlegend=show)
    if show:
        common["legend"] = leg

    bx, by = band_xy(f, red, rci)
    fig.add_trace(go.Scatter(x=bx, y=by, fill="toself", fillcolor=RED_BAND, mode="lines",
                             line=dict(width=0), name=NAMES["redband"], legendrank=2, **common))
    bx, by = band_xy(f, blue, bci)
    fig.add_trace(go.Scatter(x=bx, y=by, fill="toself", fillcolor=BLUE_BAND, mode="lines",
                             line=dict(width=0), name=NAMES["blueband"], legendrank=4, **common))
    bx, by = band_xy(f, meas, [MEAS_CI] * len(meas))
    fig.add_trace(go.Scatter(x=bx, y=by, fill="toself", fillcolor=CYAN_BAND, mode="lines",
                             line=dict(width=0), name=NAMES["measband"], legendrank=6, **common))
    fig.add_trace(go.Scatter(x=f, y=red, mode="lines", line=dict(color=RED, width=1.5),
                             name=NAMES["red"], legendrank=1, **common))
    fig.add_trace(go.Scatter(x=f, y=blue, mode="lines", line=dict(color=BLUE, width=1.3, dash="1.5px,2px"),
                             name=NAMES["blue"], legendrank=3, **common))
    fig.add_trace(go.Scatter(x=f, y=meas, mode="lines", line=dict(color=BLACK, width=1.2, dash="4.5px,2.5px"),
                             name=NAMES["meas"], legendrank=5, **common))

    bottom = (r == P["nrows"] - 1)
    left = (c == 0)
    ticktext = list(TICK_X_TEXT)
    if c == 1:
        ticktext[0] = "<br>0.4"
        if panel == "b":
            # last label drawn separately so it stays inside the page edge
            ticktext[-1] = ""
    layout_axes["xaxis" if i == 1 else f"xaxis{i}"] = dict(
        domain=[px_x(x0), px_x(x1)], anchor=ya, range=[0.4, 20],
        tickmode="array", tickvals=TICK_X, ticktext=ticktext,
        showticklabels=bottom, ticks="outside" if bottom else "", ticklen=2,
        ticklabeloverflow="allow",
        tickfont=dict(family="DejaVu Sans", size=11, color="#222"),
        showgrid=True, gridcolor="#666666", griddash="dot", gridwidth=0.9,
        minor=dict(dtick=1, tick0=0, showgrid=True, gridcolor="#e2e2e2", gridwidth=1),
        showline=True, mirror=True, linecolor="black", linewidth=1.2,
        zeroline=False, fixedrange=True, automargin=False,
    )
    layout_axes["yaxis" if i == 1 else f"yaxis{i}"] = dict(
        domain=[px_y(y1), px_y(y0)], anchor=xa, range=[-45, 30],
        tickmode="array", tickvals=TICK_Y,
        showticklabels=left, ticks="outside" if left else "", ticklen=4,
        tickfont=dict(family="DejaVu Sans", size=11, color="#222"),
        showgrid=True, gridcolor="#666666", griddash="dot", gridwidth=0.9,
        minor=dict(dtick=5, tick0=0, showgrid=True, gridcolor="#e2e2e2", gridwidth=1,
                   ticks="outside" if left else "", ticklen=2),
        showline=True, mirror=True, linecolor="black", linewidth=1.2,
        zeroline=False, fixedrange=True, automargin=False,
    )

    if bottom and c == 1 and panel == "b":
        annotations.append(dict(x=px_x(1256), y=px_y(870), xref="paper", yref="paper",
                                text=TICK_X_TEXT[-1], showarrow=False, xanchor="right", yanchor="middle",
                                font=dict(family="DejaVu Sans", size=11, color="#222")))

    yc = px_y((y0 + y1) / 2)
    if left:
        if panel == "a":
            col, bold, lab = A_ROW_COLORS[r], A_ROW_BOLD[r], A_ROW_LABELS[r]
            annotations.append(dict(x=px_x(21), y=yc, xref="paper", yref="paper", text="HRTF [dB]",
                                    textangle=-90, showarrow=False, xanchor="center", yanchor="middle",
                                    font=dict(family="DejaVu Sans", size=15, color="black")))
            annotations.append(dict(x=px_x(42), y=yc, xref="paper", yref="paper",
                                    text=f"<b>{lab}</b>" if bold else lab,
                                    textangle=-90, showarrow=False, xanchor="center", yanchor="middle",
                                    font=dict(family="DejaVu Sans", size=15, color=col)))
        else:
            col, bold, lab = B_ROW_COLORS[r], B_ROW_BOLD[r], B_ROW_LABELS[r]
            annotations.append(dict(x=px_x(671), y=yc, xref="paper", yref="paper", text="HRTF [dB]",
                                    textangle=-90, showarrow=False, xanchor="center", yanchor="middle",
                                    font=dict(family="DejaVu Sans", size=11, color="black")))
            annotations.append(dict(x=px_x(684), y=yc, xref="paper", yref="paper",
                                    text=f"<b>{lab}</b>" if bold else lab,
                                    textangle=-90, showarrow=False, xanchor="center", yanchor="middle",
                                    font=dict(family="DejaVu Sans", size=13, color=col)))

for panel, titles, ty, xty in (("a", A_COL_TITLES, 18, 892), ("b", B_COL_TITLES, 7, 883)):
    for c, t in enumerate(titles):
        x0, x1 = PANEL[panel]["cols"][c]
        annotations.append(dict(x=px_x((x0 + x1) / 2), y=px_y(ty), xref="paper", yref="paper", text=t,
                                showarrow=False, xanchor="center", yanchor="middle",
                                font=dict(family="DejaVu Sans", size=11, color="#222")))
        annotations.append(dict(x=px_x((x0 + x1) / 2), y=px_y(xty), xref="paper", yref="paper",
                                text="Frequency [kHz]", showarrow=False, xanchor="center", yanchor="middle",
                                font=dict(family="DejaVu Sans", size=11, color="#222")))

for txt, x in (("(a)", 339), ("(b)", 989)):
    annotations.append(dict(x=px_x(x), y=px_y(941), xref="paper", yref="paper", text=txt,
                            showarrow=False, xanchor="center", yanchor="middle",
                            font=dict(family="Liberation Sans", size=16, color="black")))

shapes = []
def hline(y, xa, xb, w=2.2):
    shapes.append(dict(type="line", xref="paper", yref="paper", x0=px_x(xa), x1=px_x(xb),
                       y0=px_y(y), y1=px_y(y), line=dict(color="black", width=w)))
def vline(x, ya, yb, w=2.2):
    shapes.append(dict(type="line", xref="paper", yref="paper", x0=px_x(x), x1=px_x(x),
                       y0=px_y(ya), y1=px_y(yb), line=dict(color="black", width=w)))
hline(657, 78, 600)
hline(184, 722, 1255)
hline(353, 722, 1255)
vline(990, 15, 860, 1.8)

legend_style = dict(bgcolor="rgba(255,255,255,0.85)", bordercolor="#cccccc", borderwidth=1,
                    font=dict(family="DejaVu Sans", size=9, color="#222"),
                    xanchor="left", yanchor="top", traceorder="normal", itemwidth=30,
                    tracegroupgap=0)

fig.update_layout(
    width=W, height=H, autosize=False,
    margin=dict(l=0, r=0, t=0, b=0, pad=0, autoexpand=False),
    paper_bgcolor="white", plot_bgcolor="white",
    showlegend=True,
    legend=dict(x=px_x(80), y=px_y(133), **legend_style),
    legend2=dict(x=px_x(826), y=px_y(186), **legend_style),
    annotations=annotations,
    shapes=shapes,
    **layout_axes,
)

fig.write_html("out.html", config={"displayModeBar": False},
               post_script="document.body.style.margin='0px';document.body.style.overflow='hidden';")
